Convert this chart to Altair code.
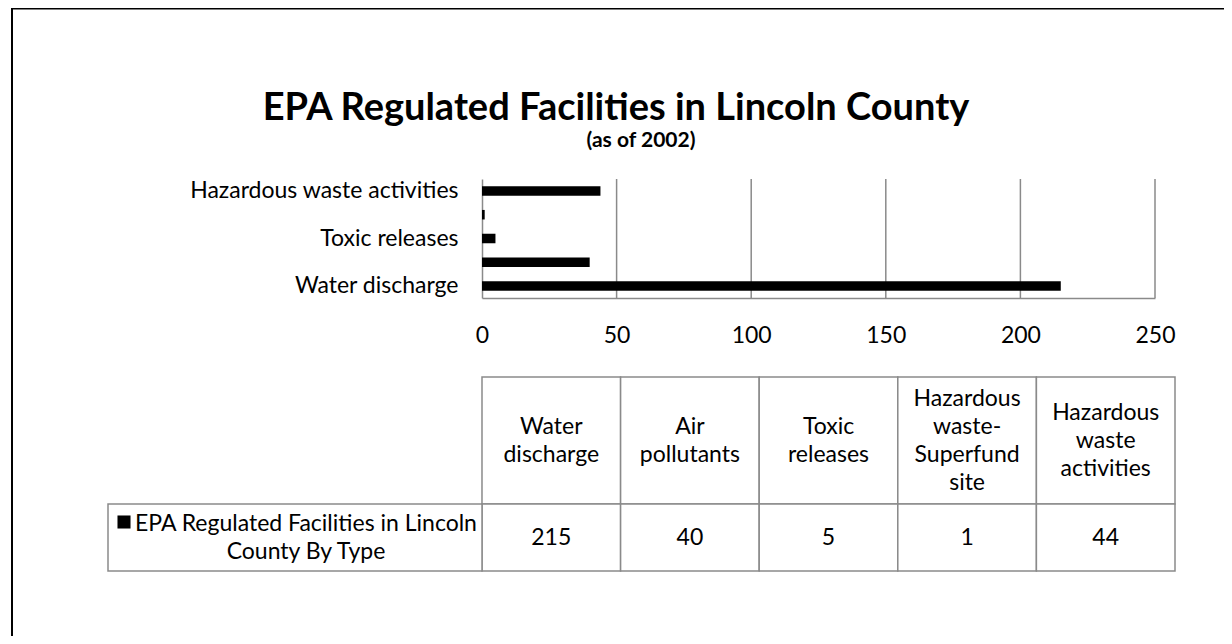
import json
import altair as alt
import pandas as pd

# ---------------- data ----------------
categories = ["Water discharge", "Air pollutants", "Toxic releases",
              "Hazardous waste-Superfund site", "Hazardous waste activities"]
header_labels = ["Water\ndischarge", "Air\npollutants", "Toxic\nreleases",
                 "Hazardous\nwaste-\nSuperfund\nsite", "Hazardous\nwaste\nactivities"]
counts = [215, 40, 5, 1, 44]
x_ticks = [0, 50, 100, 150, 200, 250]
shown_y_labels = ["Water discharge", "Toxic releases", "Hazardous waste activities"]
series_name = "EPA Regulated Facilities in Lincoln\nCounty By Type"
title_text = "EPA Regulated Facilities in Lincoln County"
subtitle_text = "(as of 2002)"

df = pd.DataFrame({"category": categories, "count": counts})
grid_df = pd.DataFrame({"tick": x_ticks[1:]})
one = pd.DataFrame({"k": [0]})

# header text split into lines, each line centred around the cell middle
head_rows = []
for cat, hdr in zip(categories, header_labels):
    parts = hdr.split("\n")
    for i, p in enumerate(parts):
        head_rows.append({"category": cat, "line": p, "pos": i - (len(parts) - 1) / 2})
head_df = pd.DataFrame(head_rows)

# ---------------- layout (pixels inside the chart) ----------------
W, H = 1216, 628
FONT = "Lato"
GRAY = "#8a8a8a"
LW = 1.5
FS = 23
LH = 28

X_RANGE = [474, 1147]
Y_RANGE = [171, 290]
TABLE_X = [474, 1167]
HEAD_Y = [369, 496]
DATA_Y = [496, 563]
LABEL_X = [100, 474]
HEAD_MID = (HEAD_Y[0] + HEAD_Y[1]) / 2
DATA_MID = (DATA_Y[0] + DATA_Y[1]) / 2

x_scale = alt.Scale(domain=[0, 250], range=X_RANGE, nice=False, zero=True)
y_order = categories[::-1]
y_scale = alt.Scale(domain=y_order, range=Y_RANGE, paddingInner=0.6, paddingOuter=0.3)
t_scale = alt.Scale(domain=categories, range=TABLE_X, paddingInner=0, paddingOuter=0)
line_scale = alt.Scale(domain=[-1, 1], range=[HEAD_MID - LH, HEAD_MID + LH], nice=False, zero=False)

label_expr = f"indexof({json.dumps(shown_y_labels)}, datum.value) >= 0 ? datum.label : ''"

# frame
frame_left = alt.Chart(one).mark_rule(color="black", strokeWidth=2).encode(
    x=alt.value(4), y=alt.value(0), y2=alt.value(H))
frame_top = alt.Chart(one).mark_rule(color="black", strokeWidth=2).encode(
    x=alt.value(4), x2=alt.value(W), y=alt.value(0.5))

# titles
title = alt.Chart(one).mark_text(text=title_text, font=FONT, fontSize=38, fontWeight="bold",
                                 align="center", baseline="alphabetic", color="black").encode(
    x=alt.value(608), y=alt.value(112))
subtitle = alt.Chart(one).mark_text(text=subtitle_text, font=FONT, fontSize=21, fontWeight="bold",
                                    align="center", baseline="alphabetic", color="black").encode(
    x=alt.value(633), y=alt.value(139))

# gridlines
grid = alt.Chart(grid_df).mark_rule(color=GRAY, strokeWidth=LW).encode(
    x=alt.X("tick:Q", scale=x_scale, axis=None),
    y=alt.value(Y_RANGE[0]), y2=alt.value(Y_RANGE[1]))

# bars
bars = alt.Chart(df).mark_bar(color="black").encode(
    x=alt.X("count:Q", scale=x_scale,
            axis=alt.Axis(values=x_ticks, grid=False, ticks=False, tickSize=0,
                          domainColor=GRAY, domainWidth=LW, labelFont=FONT,
                          labelFontSize=FS, labelColor="black", labelPadding=37,
                          labelBaseline="middle", labelFlush=False, labelOverlap=False,
                          offset=-(H - Y_RANGE[1]), title=None)),
    y=alt.Y("category:N", scale=y_scale,
            axis=alt.Axis(grid=False, ticks=False, tickSize=0, domainColor=GRAY,
                          domainWidth=LW, labelFont=FONT, labelFontSize=FS,
                          labelColor="black", labelPadding=24, labelLimit=0,
                          labelOverlap=False, labelExpr=label_expr,
                          offset=-X_RANGE[0], title=None)))

# data table
head_cells = alt.Chart(df).mark_rect(fill="white", stroke=GRAY, strokeWidth=LW).encode(
    x=alt.X("category:N", scale=t_scale, axis=None),
    y=alt.value(HEAD_Y[0]), y2=alt.value(HEAD_Y[1]))
head_text = alt.Chart(head_df).mark_text(font=FONT, fontSize=FS, align="center",
                                         baseline="middle", color="black").encode(
    x=alt.X("category:N", scale=t_scale, axis=None),
    y=alt.Y("pos:Q", scale=line_scale, axis=None), text="line:N")
data_cells = alt.Chart(df).mark_rect(fill="white", stroke=GRAY, strokeWidth=LW).encode(
    x=alt.X("category:N", scale=t_scale, axis=None),
    y=alt.value(DATA_Y[0]), y2=alt.value(DATA_Y[1]))
data_text = alt.Chart(df).mark_text(font=FONT, fontSize=FS, align="center",
                                    baseline="middle", color="black").encode(
    x=alt.X("category:N", scale=t_scale, axis=None),
    y=alt.value(DATA_MID), text="count:Q")
label_cell = alt.Chart(one).mark_rect(fill="white", stroke=GRAY, strokeWidth=LW).encode(
    x=alt.value(LABEL_X[0]), x2=alt.value(LABEL_X[1]),
    y=alt.value(DATA_Y[0]), y2=alt.value(DATA_Y[1]))
label_text = alt.Chart(one).mark_text(text=series_name, font=FONT, fontSize=FS, lineBreak="\n",
                                      lineHeight=LH, align="center", baseline="middle",
                                      color="black").encode(
    x=alt.value(298), y=alt.value(DATA_MID - LH / 2))
legend_key = alt.Chart(one).mark_square(size=170, color="black", opacity=1, filled=True).encode(
    x=alt.value(116), y=alt.value(514))

chart = alt.layer(
    frame_left, frame_top, title, subtitle, grid, bars,
    head_cells, data_cells, label_cell, head_text, data_text, label_text, legend_key
).resolve_scale(x="independent", y="independent").properties(
    width=W, height=H, autosize=alt.AutoSizeParams(type="none"), padding=0,
    background="white"
).configure_view(strokeWidth=0)

chart.save("out.html", embed_options={"renderer": "svg", "actions": False})
